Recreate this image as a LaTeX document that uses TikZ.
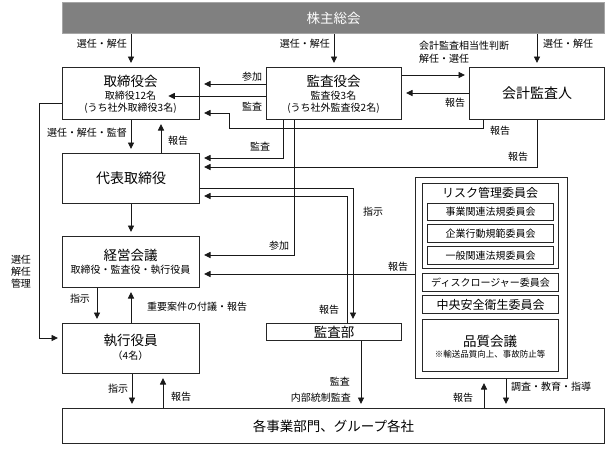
\documentclass[tikz,border=0pt]{standalone}
\usepackage{fontspec}
\setmainfont{Noto Sans CJK JP}
\usetikzlibrary{arrows.meta,calc}
\newcommand\fsL{\fontsize{13.5}{16}\selectfont}
\newcommand\fsXL{\fontsize{14}{16}\selectfont}
\newcommand\fsM{\fontsize{12}{14}\selectfont}
\newcommand\fsS{\fontsize{10}{12}\selectfont}
\newcommand\fsXS{\fontsize{8.5}{10}\selectfont}
\definecolor{bargray}{RGB}{128,128,128}
\begin{document}
\begin{tikzpicture}[x=1pt,y=-1pt,
  box/.style={draw=black!85, line width=1pt, inner sep=0pt, anchor=north west},
  conn/.style={draw=black!90, line width=0.9pt},
  arr/.style={conn, -{Triangle[length=6.5pt,width=6pt]}, shorten >=4pt},
  lab/.style={font=\fsS, inner sep=0pt},
  ttl/.style={font=\fsL, inner sep=0pt},
  sub/.style={font=\fsS, inner sep=0pt}]
\useasboundingbox (0,0) rectangle (606,459);
% boxes
\node[box, draw=gray!70, fill=bargray, minimum width=542pt, minimum height=31pt] (bar) at (62,2) {};
\node[font=\fsL, text=white, inner sep=0pt] (bart) at (bar.center) {株主総会};
\node[box, minimum width=137pt, minimum height=52pt] (tori) at (62,67) {};
\node[box, minimum width=135pt, minimum height=52pt] (kansa) at (266,67) {};
\node[box, minimum width=135pt, minimum height=52pt] (kaikei) at (469,67) {};
\node[box, minimum width=137pt, minimum height=50pt] (daihyo) at (62,153) {};
\node[box, minimum width=137pt, minimum height=51pt] (keiei) at (62,236) {};
\node[box, minimum width=137pt, minimum height=50pt] (shikko) at (62,323) {};
\node[box, minimum width=135pt, minimum height=17pt] (kansabu) at (266,323) {};
\node[box, minimum width=542pt, minimum height=35pt] (kaku) at (62,408) {};
\node[box, minimum width=152pt, minimum height=201pt] (outer) at (415,177) {};
\node[box, minimum width=136pt, minimum height=85pt] (risk) at (422,183) {};
\node[box, minimum width=126pt, minimum height=17pt] (sub1) at (427,203) {};
\node[box, minimum width=126pt, minimum height=18pt] (sub2) at (427,224) {};
\node[box, minimum width=126pt, minimum height=18pt] (sub3) at (427,246) {};
\node[box, minimum width=136pt, minimum height=18pt] (disc) at (422,273) {};
\node[box, minimum width=136pt, minimum height=18pt] (chuo) at (422,295) {};
\node[box, minimum width=136pt, minimum height=52pt] (hin) at (422,319) {};
% box texts
\node[ttl] (t1) at (130.5,81) {取締役会};
\node[sub] (t12) at (130.5,96) {取締役12名};
\node[sub] (t13) at (130.5,108) {(うち社外取締役3名)};
\node[ttl] (k1) at (333.5,81) {監査役会};
\node[sub] (k12) at (333.5,96) {監査役3名};
\node[sub] (k13) at (333.5,108) {(うち社外監査役2名)};
\node[font=\fsXL, inner sep=0pt] (kk) at (kaikei.center) {会計監査人};
\node[font=\fsXL, inner sep=0pt] (dt) at (daihyo.center) {代表取締役};
\node[ttl] (ke1) at (130.5,255) {経営会議};
\node[sub] (ke2) at (130.5,270) {取締役・監査役・執行役員};
\node[ttl] (sh1) at (130.5,340) {執行役員};
\node[sub] (sh2) at (130.5,356) {（4名）};
\node[ttl] (kbt) at (kansabu.center) {監査部};
\node[ttl] (kat) at (kaku.center) {各事業部門、グループ各社};
\node[font=\fsM, inner sep=0pt] (rt) at (490,193) {リスク管理委員会};
\node[sub] (s1t) at (sub1.center) {事業関連法規委員会};
\node[sub] (s2t) at (sub2.center) {企業行動規範委員会};
\node[sub] (s3t) at (sub3.center) {一般関連法規委員会};
\node[sub] (dct) at (disc.center) {ディスクロージャー委員会};
\node[font=\fsM, inner sep=0pt] (cht) at (chuo.center) {中央安全衛生委員会};
\node[ttl] (h1) at (490,341) {品質会議};
\node[font=\fsXS, inner sep=0pt] (h2) at (490,354) {※輸送品質向上、事故防止等};
% connectors
\draw[arr] (tori.north |- bar.south) -- (tori.north);
\draw[arr] (kansa.north |- bar.south) -- (kansa.north);
\draw[arr] (kaikei.north |- bar.south) -- (kaikei.north);
\draw[arr] (kansa.west |- 0,84) -- (tori.east |- 0,84);
\draw[arr] (kansa.west |- 0,96) -- ([xshift=8pt]t12.east);
\draw[arr] (483,0 |- kaikei.south) |- (229,128) |- (tori.east |- 0,113);
\draw[arr] (kansa.east |- 0,75) -- (kaikei.west |- 0,75);
\draw[arr] (kaikei.west |- 0,93) -- (kansa.east |- 0,93);
\draw[arr] (tori.south) -- (daihyo.north);
\draw[arr] (161,0 |- daihyo.north) -- (161,0 |- tori.south);
\draw[arr] (283,0 |- kansa.south) |- (daihyo.east |- 0,158);
\draw[arr] (537,0 |- kaikei.south) |- (daihyo.east |- 0,167);
\draw[arr] (daihyo.east |- 0,188) -| (353,0 |- kansabu.north);
\draw[arr] (347,0 |- kansabu.north) |- (daihyo.east |- 0,196);
\draw[arr] (daihyo.south) -- (keiei.north);
\draw[arr] (294,0 |- kansa.south) |- (keiei.east |- 0,255);
\draw[arr] (outer.west |- 0,274) -- (keiei.east |- 0,274);
\draw[arr] (97,0 |- keiei.south) -- (97,0 |- shikko.north);
\draw[arr] (shikko.north) -- (keiei.south);
\draw[arr] (tori.west |- 0,103) -| (39,338) -- (shikko.west |- 0,338);
\draw[arr] (132,0 |- shikko.south) -- (132,0 |- kaku.north);
\draw[arr] (163,0 |- kaku.north) -- (163,0 |- shikko.south);
\draw[arr] (361,0 |- kansabu.south) -- (361,0 |- kaku.north);
\draw[arr] (484,0 |- kaku.north) -- (484,0 |- outer.south);
\draw[arr] (506,0 |- outer.south) -- (506,0 |- kaku.north);
% labels
\node[lab, anchor=east] (l1) at (127,44) {選任・解任};
\node[lab, anchor=east] (l2) at (330,44) {選任・解任};
\node[lab, anchor=west] (l3) at (543,44) {選任・解任};
\node[lab, anchor=west] (l4) at (419,46) {会計監査相当性判断};
\node[lab, anchor=west] (l5) at (419,59) {解任・選任};
\node[lab] (l6) at (252,77) {参加};
\node[lab] (l7) at (252,107) {監査};
\node[lab] (l8) at (455,103) {報告};
\node[lab] (l9) at (500,131) {報告};
\node[lab] (l10) at (518,157) {報告};
\node[lab] (l11) at (87,133) {選任・解任・監督};
\node[lab] (l12) at (178,141) {報告};
\node[lab] (l13) at (260,147) {監査};
\node[lab] (l14) at (373,212) {指示};
\node[lab] (l15) at (279,246) {参加};
\node[lab] (l16) at (398,267) {報告};
\node[lab] (l17) at (329,310) {報告};
\node[lab, align=center, font=\fontsize{10}{12}\selectfont] (l18) at (21,272) {選任\\解任\\管理};
\node[lab] (l19) at (80,299) {指示};
\node[lab] (l20) at (197,307) {重要案件の付議・報告};
\node[lab] (l21) at (118,389) {指示};
\node[lab] (l22) at (181,397) {報告};
\node[lab, anchor=east] (l23) at (350,382) {監査};
\node[lab, anchor=east] (l24) at (351,398) {内部統制監査};
\node[lab] (l25) at (463,398) {報告};
\node[lab, anchor=west] (l26) at (511,387) {調査・教育・指導};
\end{tikzpicture}
\end{document}
